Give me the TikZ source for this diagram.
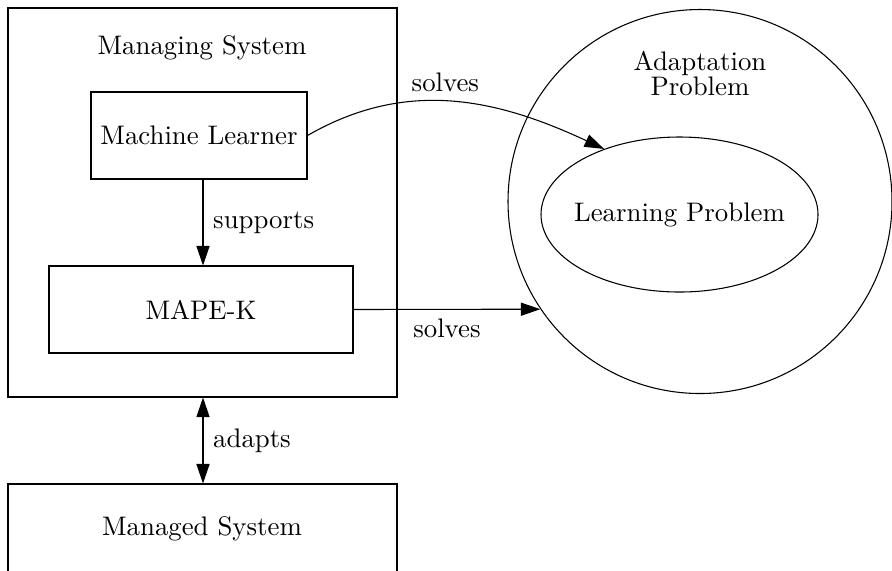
\documentclass[tikz,border=0pt]{standalone}
\usetikzlibrary{arrows.meta,shapes.geometric}
\begin{document}
\begin{tikzpicture}[x=0.373pt,y=-0.373pt,
  box/.style={draw,rectangle,inner sep=0pt,line width=0.4pt},
  txt/.style={inner sep=0pt},
  arr/.style={-{Triangle[length=7.3pt,width=4.9pt]},line width=0.4pt},
  darr/.style={{Triangle[length=7.3pt,width=4.9pt]}-{Triangle[length=7.3pt,width=4.9pt]},line width=0.4pt}]
\useasboundingbox (0,0) rectangle (892,570);
% Managing system
\node[box,minimum width=389*0.373pt,minimum height=389*0.373pt] (ms) at (202.5,202.5) {};
\node[txt,anchor=base] (mst) at (202,54) {Managing System};
\node[box,minimum width=216*0.373pt,minimum height=87*0.373pt] (ml) at (199,135.5) {Machine Learner};
\node[box,minimum width=304*0.373pt,minimum height=87*0.373pt] (mape) at (201,309.5) {MAPE-K};
\node[box,minimum width=389*0.373pt,minimum height=92*0.373pt] (mgd) at (202.5,530) {};
\node[txt,anchor=base] (mgdt) at (202,535) {Managed System};
% Adaptation problem
\node[draw,circle,inner sep=0pt,minimum size=384*0.373pt] (ap) at (700,201.5) {};
\node[txt,anchor=base] (apt1) at (700,70) {Adaptation};
\node[txt,anchor=base] (apt2) at (700,95) {Problem};
\node[draw,ellipse,inner sep=0pt,minimum width=277*0.373pt,minimum height=155*0.373pt] (lp) at (679.5,214.5) {};
\node[txt] (lpt) at (lp.center) {Learning Problem};
% connectors
\coordinate (ax) at (203,0);
\draw[arr] (ax |- ml.south) -- node[right,inner sep=3.6pt] {supports} (ax |- mape.north);
\draw[darr] (ax |- ms.south) -- node[right,inner sep=3.6pt] {adapts} (ax |- mgd.north);
\draw[arr] (ml.east) to[out=30,in=155] node[above,pos=0.47] {solves} (lp.139);
\draw[arr] (mape.east) -- node[below] {solves} (ap.214.5);
\end{tikzpicture}
\end{document}
